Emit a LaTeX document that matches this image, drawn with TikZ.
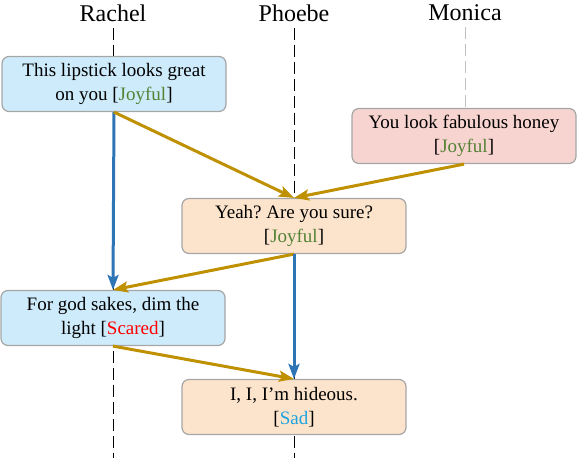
\documentclass[tikz,border=0pt]{standalone}
\usepackage{fontspec}
\setmainfont{Liberation Serif}
\usetikzlibrary{arrows.meta, positioning, backgrounds}
\usepackage{xcolor}
\definecolor{rachelbg}{HTML}{CDEBFB}
\definecolor{monicabg}{HTML}{F8D4D0}
\definecolor{phoebebg}{HTML}{FCE4CC}
\definecolor{boxgray}{HTML}{A6A6A6}
\definecolor{selfblue}{HTML}{2E75B6}
\definecolor{othergold}{HTML}{BF9000}
\definecolor{joycolor}{HTML}{548235}
\definecolor{scarecolor}{HTML}{FF0000}
\definecolor{sadcolor}{HTML}{1FA3E0}
\newcommand{\emotag}[2]{[\textcolor{#1}{#2}]}
\frenchspacing

\begin{document}
\begin{tikzpicture}[
    x=1pt, y=-1pt,
    speaker/.style={font=\fontsize{24}{28}\selectfont, inner sep=6pt},
    utt/.style={draw=boxgray, line width=1.2pt, rounded corners=7pt,
                minimum width=224pt, minimum height=55pt, align=center,
                font=\fontsize{19}{24}\selectfont, inner sep=2pt},
    rachelbox/.style={utt, fill=rachelbg},
    monicabox/.style={utt, fill=monicabg},
    phoebebox/.style={utt, fill=phoebebg},
    life/.style={line width=0.8pt, dash pattern=on 12pt off 5pt},
    selfarr/.style={-{Stealth[length=15pt, width=11pt, inset=3pt]}, line width=3pt, draw=selfblue},
    otherarr/.style={-{Stealth[length=15pt, width=11pt, inset=3pt]}, line width=3pt, draw=othergold}
  ]
  \useasboundingbox (0,0) rectangle (578,458);
  % Speakers
  \node[speaker] (rachel) at (113,13) {Rachel};
  \node[speaker] (phoebe) at (294,13) {Phoebe};
  \node[speaker] (monica) at (465,13) {Monica};
  \coordinate (bottom) at (0,458);
  % Utterances
  \node[rachelbox] (r1) at (114,84) {This lipstick looks great\\on you \emotag{joycolor}{Joyful}};
  \node[monicabox] (m1) at (464,136) {You look fabulous honey\\\emotag{joycolor}{Joyful}};
  \node[phoebebox] (p1) at (294,226) {Yeah? Are you sure?\\\emotag{joycolor}{Joyful}};
  \node[rachelbox] (r2) at (113,318) {For god sakes, dim the\\light \emotag{scarecolor}{Scared}};
  \node[phoebebox] (p2) at (294,407) {I, I, I’m hideous.\\\emotag{sadcolor}{Sad}};
  % Lifelines
  \begin{scope}[on background layer]
    \draw[life] (rachel.south) -- (rachel |- bottom);
    \draw[life] (phoebe.south) -- (phoebe |- bottom);
    \draw[life, draw=gray!50] (monica.south) -- (monica |- m1.north);
  \end{scope}
  % Dependencies
  \draw[selfarr] (r1.south) -- (r2.north);
  \draw[otherarr] (r1.south) -- (p1.north);
  \draw[otherarr] (m1.south) -- (p1.north);
  \draw[otherarr] (p1.south) -- (r2.north);
  \draw[selfarr] (p1.south) -- (p2.north);
  \draw[otherarr] (r2.south) -- (p2.north);
\end{tikzpicture}
\end{document}
